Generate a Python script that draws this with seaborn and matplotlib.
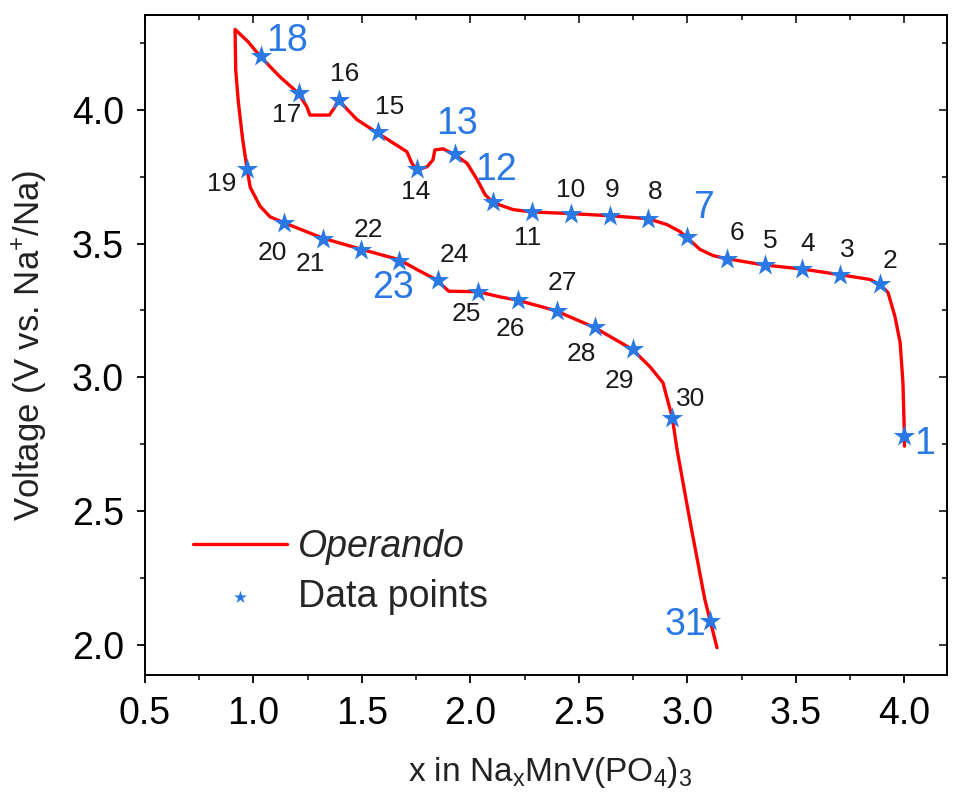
import matplotlib
matplotlib.use("Agg")
import matplotlib.pyplot as plt
import seaborn as sns
from matplotlib.ticker import MultipleLocator, FormatStrFormatter

# ---------------- data ----------------
# operando voltage profile: charge (x from 4.0 down to ~0.92) then discharge
curve_x = [4.000, 4.000, 3.993, 3.980, 3.956, 3.924, 3.887, 3.840, 3.700, 3.528, 3.353,
           3.177, 3.118, 3.058, 2.998, 2.965, 2.905, 2.818, 2.643, 2.463, 2.283, 2.196,
           2.104, 2.067, 2.030, 1.984, 1.928, 1.873, 1.836, 1.827, 1.800, 1.753, 1.730,
           1.707, 1.570, 1.477, 1.390, 1.375, 1.350, 1.260, 1.246, 1.205, 1.122, 1.030,
           0.975, 0.915,
           0.918, 0.930, 0.950, 0.970, 0.985, 1.030, 1.076, 1.140, 1.320, 1.500, 1.670,
           1.760, 1.840, 1.900, 2.035, 2.140, 2.210, 2.390, 2.570, 2.745, 2.827, 2.887,
           2.920, 2.930, 2.952, 3.010, 3.080, 3.136]
curve_v = [2.743, 2.780, 2.980, 3.130, 3.228, 3.317, 3.347, 3.366, 3.384, 3.405, 3.420,
           3.444, 3.455, 3.478, 3.522, 3.545, 3.571, 3.593, 3.604, 3.612, 3.618, 3.627,
           3.653, 3.683, 3.740, 3.800, 3.832, 3.854, 3.850, 3.813, 3.787, 3.776, 3.800,
           3.843, 3.914, 3.963, 4.037, 4.010, 3.980, 3.980, 4.011, 4.063, 4.123, 4.200,
           4.254, 4.300,
           4.150, 4.030, 3.890, 3.780, 3.710, 3.640, 3.600, 3.578, 3.520, 3.478, 3.440,
           3.400, 3.366, 3.322, 3.320, 3.300, 3.290, 3.250, 3.187, 3.105, 3.040, 2.980,
           2.880, 2.850, 2.730, 2.470, 2.170, 1.990]

# measured data points 1..31
point_ids = list(range(1, 32))
point_x = [4.000, 3.887, 3.705, 3.530, 3.357, 3.180, 3.000, 2.818, 2.643, 2.463,
           2.283, 2.106, 1.928, 1.753, 1.574, 1.394, 1.212, 1.035, 0.968, 1.142,
           1.320, 1.497, 1.672, 1.850, 2.035, 2.218, 2.397, 2.575, 2.748, 2.928, 3.104]
point_v = [2.780, 3.348, 3.384, 3.405, 3.420, 3.444, 3.524, 3.593, 3.603, 3.610,
           3.618, 3.655, 3.836, 3.778, 3.916, 4.037, 4.063, 4.200, 3.780, 3.578,
           3.518, 3.476, 3.435, 3.362, 3.320, 3.290, 3.248, 3.187, 3.105, 2.850, 2.088]
highlight_ids = [1, 7, 12, 13, 18, 23, 31]

x_ticks = [0.5, 1.0, 1.5, 2.0, 2.5, 3.0, 3.5, 4.0]
y_ticks = [2.0, 2.5, 3.0, 3.5, 4.0]

# label offsets in pixels (dx, dy; dy positive = downward)
label_offsets = {1: (20, 8), 2: (10, -23), 3: (7, -25), 4: (5, -25), 5: (5, -24),
                 6: (10, -26), 7: (16, -29), 8: (7, -27), 9: (2, -26), 10: (0, -24),
                 11: (-4, 26), 12: (3, -32), 13: (2, -30), 14: (-1, 23), 15: (12, -25),
                 16: (6, -26), 17: (-13, 22), 18: (26, -15), 19: (-25, 15), 20: (-12, 30),
                 21: (-13, 25), 22: (7, -20), 23: (-6, 27), 24: (16, -25), 25: (-12, 22),
                 26: (-7, 29), 27: (6, -28), 28: (-14, 27), 29: (-13, 32), 30: (19, -19),
                 31: (-25, 4)}

# ---------------- style ----------------
sns.set_theme(style="ticks")
plt.rcParams["font.family"] = ["Liberation Sans", "DejaVu Sans"]
plt.rcParams["mathtext.fontset"] = "custom"
plt.rcParams["mathtext.rm"] = "Liberation Sans"
plt.rcParams["mathtext.it"] = "Liberation Sans:italic"

RED = "#ff0000"
BLUE = "#2a78e4"
DPI = 100
fig = plt.figure(figsize=(955 / DPI, 801 / DPI), dpi=DPI)
AX_L, AX_R, AX_T, AX_B = 145, 947, 15, 675
ax = fig.add_axes([AX_L / 955, 1 - AX_B / 801, (AX_R - AX_L) / 955, (AX_B - AX_T) / 801])
W, H = AX_R - AX_L, AX_B - AX_T

sns.lineplot(x=curve_x, y=curve_v, sort=False, estimator=None, color=RED,
             linewidth=2.4, label="Operando", ax=ax, zorder=2)
sns.scatterplot(x=point_x, y=point_v, marker="*", s=260, color=BLUE, linewidth=0,
                label="Data points", ax=ax, zorder=3)

px_to_pt = 72 / DPI
for pid, xv, yv in zip(point_ids, point_x, point_v):
    dx, dy = label_offsets[pid]
    big = pid in highlight_ids
    ax.annotate(str(pid), (xv, yv), xytext=(dx * px_to_pt, -dy * px_to_pt),
                textcoords="offset points", ha="center", va="center",
                fontsize=27 if big else 19, color=BLUE if big else "#1a1a1a",
                zorder=4)

ax.set_xlim(0.5, 4.196)
ax.set_ylim(1.888, 4.354)
ax.set_xticks(x_ticks)
ax.set_yticks(y_ticks)
ax.xaxis.set_major_formatter(FormatStrFormatter("%.1f"))
ax.yaxis.set_major_formatter(FormatStrFormatter("%.1f"))
ax.xaxis.set_minor_locator(MultipleLocator(0.25))
ax.yaxis.set_minor_locator(MultipleLocator(0.25))
ax.tick_params(axis="both", which="major", direction="out", length=6, width=1.3,
               labelsize=27, pad=9, colors="black")
ax.tick_params(axis="both", which="minor", direction="out", length=3.5, width=1.3)
for s in ax.spines.values():
    s.set_linewidth(1.4)
    s.set_color("black")

# mirrored inward ticks on top/right
secx = ax.secondary_xaxis("top")
secx.set_xticks(x_ticks)
secx.xaxis.set_minor_locator(MultipleLocator(0.25))
secx.tick_params(which="major", direction="in", length=6, width=1.3, labeltop=False)
secx.tick_params(which="minor", direction="in", length=3.5, width=1.3)
secx.spines["top"].set_linewidth(1.4)
secy = ax.secondary_yaxis("right")
secy.set_yticks(y_ticks)
secy.yaxis.set_minor_locator(MultipleLocator(0.25))
secy.tick_params(which="major", direction="in", length=6, width=1.3, labelright=False)
secy.tick_params(which="minor", direction="in", length=3.5, width=1.3)
secy.spines["right"].set_linewidth(1.4)

ax.set_xlabel(r"x in Na$_\mathregular{x}$MnV(PO$_\mathregular{4}$)$_\mathregular{3}$",
              fontsize=24, color="#222222")
ax.set_ylabel(r"Voltage (V vs. Na$^\mathregular{+}$/Na)", fontsize=25, color="#222222")
ax.xaxis.label.set_verticalalignment("center")
ax.yaxis.label.set_verticalalignment("center")
ax.xaxis.set_label_coords((550 - AX_L) / W, (AX_B - 773) / H)
ax.yaxis.set_label_coords((30 - AX_L) / W, (AX_B - 345) / H)

leg = ax.legend(loc="upper left", bbox_to_anchor=((193 - AX_L) / W, (AX_B - 529) / H),
                frameon=False, fontsize=27, handlelength=2.5, handletextpad=0.3,
                labelspacing=0.38, borderpad=0, borderaxespad=0, markerscale=0.6)
leg.get_texts()[0].set_style("italic")

fig.savefig("out.png", dpi=DPI)
